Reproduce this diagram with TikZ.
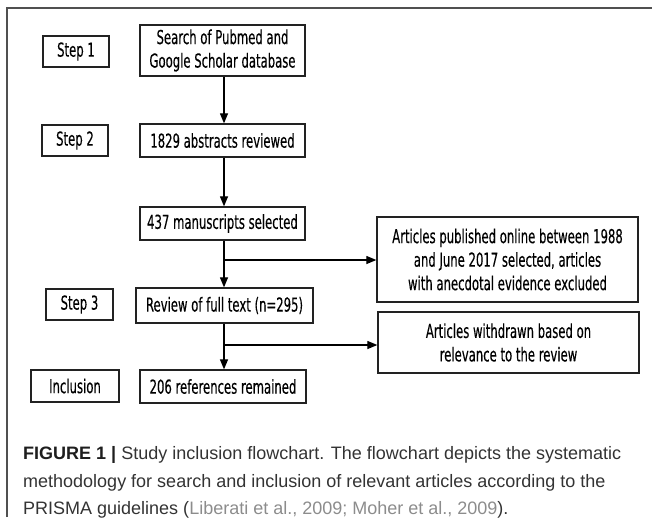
\documentclass[tikz,border=0pt]{standalone}
\usepackage{fontspec}
\usetikzlibrary{arrows.meta}
\newfontfamily\flowfont[FakeStretch=0.607,FakeBold=0.3]{DejaVu Sans}
\newfontfamily\capfont{Liberation Sans}
\definecolor{framecol}{HTML}{505050}
\definecolor{boxcol}{HTML}{222222}
\definecolor{captxt}{HTML}{333333}
\definecolor{capbold}{HTML}{1E1E1E}
\definecolor{capcite}{HTML}{8C8C8C}
\begin{document}
\begin{tikzpicture}[x=1pt,y=-1pt,
  box/.style={draw=boxcol, line width=1.3pt, inner sep=0pt, align=center,
    font=\flowfont\fontsize{19.2}{23.5}\selectfont},
  arr/.style={line width=1.2pt, -{Triangle[length=10pt,width=8pt]}},
  link/.style={line width=1.2pt},
  framestyle/.style={draw=framecol, line width=1.5pt},
  captext/.style={anchor=base west, inner sep=0pt, text=captxt,
    font=\capfont\fontsize{18}{22}\selectfont}]
\useasboundingbox (0,0) rectangle (652,517);
% frame
\coordinate (fl) at (7,8);
\coordinate (fr) at (652,8);
\coordinate (fb) at (7,517);
\draw[framestyle] (fb) -- (fl) -- (fr);
% step labels
\node[box, minimum width=66pt, minimum height=31pt] (step1) at (76,51.5) {Step 1};
\node[box, minimum width=66pt, minimum height=31pt] (step2) at (75,140.5) {Step 2};
\node[box, minimum width=67pt, minimum height=31pt] (step3) at (79.5,304.5) {Step 3};
\node[box, minimum width=88pt, minimum height=32pt] (incl) at (75,386) {Inclusion};
% main column
\node[box, minimum width=165pt, minimum height=51pt] (search) at (222.5,50.5) {Search of Pubmed and\\Google Scholar database};
\node[box, minimum width=165pt, minimum height=33pt] (s1829) at (222.5,140.5) {1829 abstracts reviewed};
\node[box, minimum width=165pt, minimum height=33pt] (s437) at (222.5,223.5) {437 manuscripts selected};
\node[box, minimum width=177pt, minimum height=35pt] (review) at (224.5,305.5) {Review of full text (n=295)};
\node[box, minimum width=166pt, minimum height=33pt] (s206) at (223,386.5) {206 references remained};
% side boxes
\node[box, minimum width=261pt, minimum height=85pt] (articles) at (507.5,259.5) {Articles published online between 1988\\and June 2017 selected, articles\\with anecdotal evidence excluded};
\node[box, minimum width=261pt, minimum height=61pt] (withdrawn) at (508.5,342.5) {Articles withdrawn based on\\relevance to the review};
% connectors
\coordinate (b1) at (224,260);
\coordinate (b2) at (224,345);
\draw[arr] (search.south -| b1) -- (s1829.north -| b1);
\draw[arr] (s1829.south -| b1) -- (s437.north -| b1);
\draw[link] (s437.south -| b1) -- (b1);
\draw[arr] (b1) -- (review.north -| b1);
\draw[arr] (b1) -- (b1 -| articles.west);
\draw[link] (review.south -| b2) -- (b2);
\draw[arr] (b2) -- (s206.north -| b2);
\draw[arr] (b2) -- (b2 -| withdrawn.west);
% caption
\node[captext] (cap1) at (23,459) {\textcolor{capbold}{\textbf{FIGURE 1 |}} Study inclusion flowchart. The flowchart depicts the systematic};
\node[captext] (cap2) at (23,487) {methodology for search and inclusion of relevant articles according to the};
\node[captext] (cap3) at (23,514) {PRISMA guidelines (\textcolor{capcite}{Liberati et al., 2009; Moher et al., 2009}).};
\end{tikzpicture}
\end{document}
